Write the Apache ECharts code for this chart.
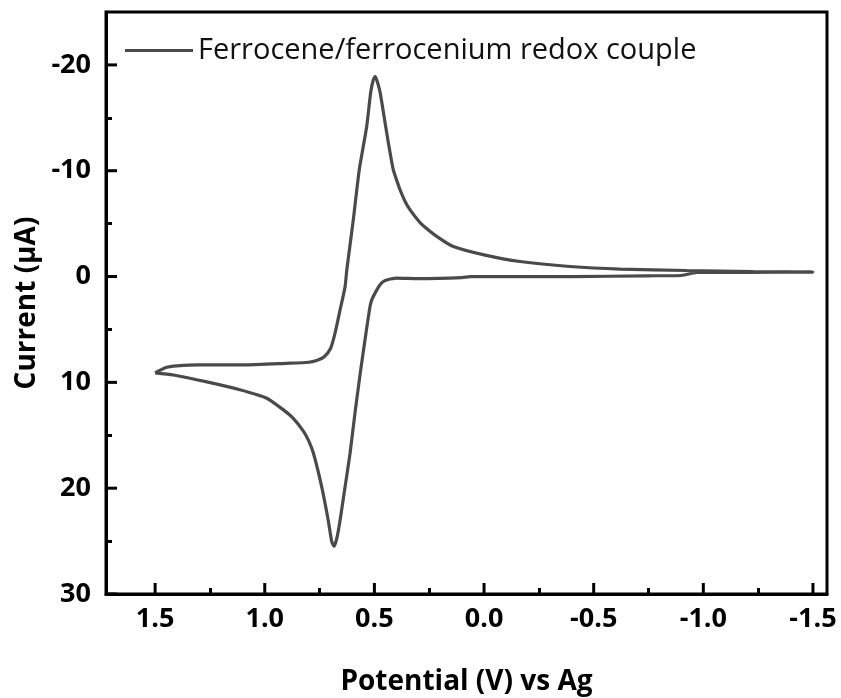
<!DOCTYPE html>
<html>
<head>
<meta charset="utf-8">
<script src="https://cdn.jsdelivr.net/npm/echarts@6.0.0/dist/echarts.min.js"></script>
<style>
  html, body { margin: 0; padding: 0; background: #fff; }
  #cv { width: 841px; height: 698px; }
</style>
</head>
<body>
<div id="cv"></div>
<script>
/********************** CV curve data ************************/
// sweep 1: from 1.5 V towards -1.5 V (upper branch, peak near 0.5 V)
var sweep1V = [1.5, 1.45, 1.40, 1.30, 1.10, 0.90, 0.80, 0.76, 0.73, 0.70, 0.68, 0.657, 0.634, 0.626, 0.596, 0.569, 0.535, 0.517, 0.505, 0.497, 0.488, 0.474, 0.455, 0.436, 0.414, 0.395, 0.383, 0.36, 0.337, 0.30, 0.277, 0.216, 0.14, 0.0, -0.164, -0.392, -0.62, -0.924, -1.228, -1.5];
var sweep1I = [9.1, 8.6, 8.45, 8.35, 8.35, 8.2, 8.1, 7.9, 7.6, 6.8, 5.4, 3.2, 1.0, -0.6, -5.4, -10.1, -14.2, -17.4, -18.6, -18.9, -18.5, -17.4, -15.0, -12.6, -10.1, -8.9, -8.2, -7.1, -6.3, -5.3, -4.8, -3.8, -2.84, -2.05, -1.42, -0.95, -0.70, -0.57, -0.47, -0.42];
// sweep 2: back from -1.5 V to 1.5 V (lower branch, peak near 0.69 V)
var sweep2V = [-1.5, -1.2, -0.97, -0.9, -0.742, -0.4, 0.064, 0.1, 0.3, 0.40, 0.44, 0.459, 0.475, 0.489, 0.512, 0.520, 0.543, 0.565, 0.588, 0.611, 0.634, 0.657, 0.672, 0.684, 0.695, 0.710, 0.740, 0.778, 0.80, 0.824, 0.87, 0.915, 0.991, 1.113, 1.264, 1.417, 1.5];
var sweep2I = [-0.42, -0.4, -0.38, -0.1, -0.07, 0.0, 0.0, 0.1, 0.2, 0.15, 0.3, 0.47, 0.8, 1.26, 2.2, 2.84, 6.0, 9.2, 12.8, 16.7, 19.9, 23.1, 24.8, 25.5, 25.0, 23.1, 19.9, 16.7, 15.5, 14.6, 13.4, 12.6, 11.5, 10.7, 9.95, 9.3, 9.1];

var xMajor = [1.5, 1.0, 0.5, 0.0, -0.5, -1.0, -1.5];
var xMinor = [1.25, 0.75, 0.25, -0.25, -0.75, -1.25];
var yMajor = [-20, -10, 0, 10, 20, 30];
var yMinor = [-15, -5, 5, 15, 25];

var loop = [];
sweep1V.forEach(function (v, i) { loop.push([v, sweep1I[i]]); });
sweep2V.forEach(function (v, i) { loop.push([v, sweep2I[i]]); });

var myChart = echarts.init(document.getElementById('cv'));
var font = '"Open Sans", "Noto Sans", sans-serif';
var xRange = { min: -1.564, max: 1.724 };
var yRange = { min: -25, max: 30 };
var gridBox = { left: 106, right: 14, top: 12, bottom: 104, outerBoundsMode: 'none' };
var MAJOR_LEN = 11;

function tickLine() {
  return { color: '#000', width: 3 };
}

// 次刻度：放在重叠的第二个 grid 里，只画刻度
function tickAxis(pos, range, values) {
  return {
    type: 'value',
    gridIndex: 1,
    position: pos,
    inverse: true,
    min: range.min,
    max: range.max,
    axisLine: { show: false, onZero: false },
    axisTick: { show: true, inside: true, length: 6, customValues: values, lineStyle: tickLine() },
    axisLabel: { show: false },
    splitLine: { show: false }
  };
}

// 主刻度：用 custom 系列按坐标轴换算画短线
function majorTicks(dir) {
  return function (params, api) {
    var p = api.coord([api.value(0), api.value(1)]);
    var shape = dir === 'x'
      ? { x1: p[0], y1: p[1], x2: p[0], y2: p[1] - MAJOR_LEN } // 底边向上
      : { x1: p[0], y1: p[1], x2: p[0] + MAJOR_LEN, y2: p[1] }; // 左边向右
    return { type: 'line', shape: shape, style: { stroke: '#000', lineWidth: 3 } };
  };
}

var option = {
  animation: false,
  grid: [
    Object.assign({ show: true, borderColor: '#000', borderWidth: 3 }, gridBox),
    Object.assign({ show: false }, gridBox)
  ],
  legend: {
    left: 120,
    top: 31,
    icon: 'rect',
    itemWidth: 68,
    itemHeight: 3,
    textStyle: { fontFamily: font, fontSize: 29, color: '#111' },
    data: ['Ferrocene/ferrocenium redox couple']
  },
  xAxis: [{
    type: 'value',
    gridIndex: 0,
    position: 'bottom',
    inverse: true, // 电位从左到右递减
    min: xRange.min,
    max: xRange.max,
    name: 'Potential (V) vs Ag',
    nameLocation: 'middle',
    nameGap: 74,
    nameTextStyle: { fontFamily: font, fontSize: 28, fontWeight: 'bold', color: '#000' },
    axisLine: { onZero: false, lineStyle: { color: '#000', width: 3 } },
    axisTick: { show: false },
    axisLabel: {
      customValues: xMajor,
      margin: 12,
      fontFamily: font, fontSize: 27, fontWeight: 'bold', color: '#000',
      formatter: function (v) { return v.toFixed(1); }
    },
    splitLine: { show: false }
  },
  tickAxis('bottom', xRange, xMinor)],
  yAxis: [{
    type: 'value',
    gridIndex: 0,
    position: 'left',
    inverse: true, // 电流向下为正
    min: yRange.min,
    max: yRange.max,
    name: 'Current (\u03bcA)',
    nameLocation: 'middle',
    nameGap: 63,
    nameTextStyle: { fontFamily: font, fontSize: 28, fontWeight: 'bold', color: '#000' },
    axisLine: { onZero: false, lineStyle: { color: '#000', width: 3 } },
    axisTick: { show: false },
    axisLabel: {
      customValues: yMajor,
      margin: 15,
      fontFamily: font, fontSize: 27, fontWeight: 'bold', color: '#000'
    },
    splitLine: { show: false }
  },
  tickAxis('left', yRange, yMinor)],
  series: [{
    name: 'Ferrocene/ferrocenium redox couple',
    type: 'line',
    xAxisIndex: 0,
    yAxisIndex: 0,
    symbol: 'none',
    smooth: 0.2,
    lineStyle: { color: '#4a4a4a', width: 3.2 },
    itemStyle: { color: '#4a4a4a' },
    data: loop
  }, {
    name: 'xMajorTicks',
    type: 'custom',
    xAxisIndex: 0,
    yAxisIndex: 0,
    silent: true,
    clip: false,
    z: 5,
    renderItem: majorTicks('x'),
    data: xMajor.map(function (v) { return [v, yRange.max]; })
  }, {
    name: 'yMajorTicks',
    type: 'custom',
    xAxisIndex: 0,
    yAxisIndex: 0,
    silent: true,
    clip: false,
    z: 5,
    renderItem: majorTicks('y'),
    data: yMajor.map(function (v) { return [xRange.max, v]; })
  }]
};
myChart.setOption(option);
window.addEventListener('resize', function () {
  myChart.resize();
});
</script>
</body>
</html>
